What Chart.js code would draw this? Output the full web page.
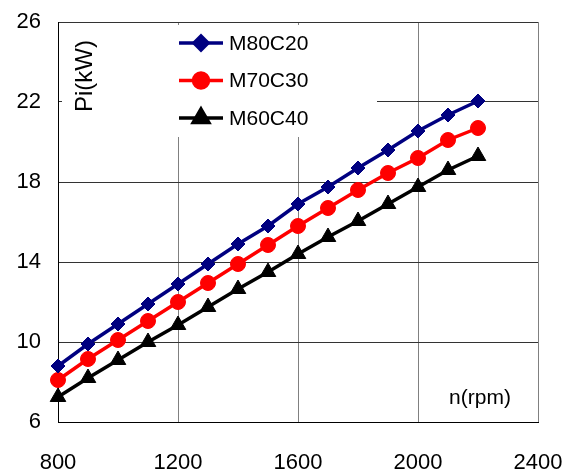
<!DOCTYPE html>
<html>
  <head>
    <title>Pi vs n</title>
    <script src="https://cdn.jsdelivr.net/npm/chart.js"></script>
    <style>
      body { margin: 0; background: #fff; }
    </style>
  </head>
  <body>
    <canvas id="pi" width="572" height="473"></canvas>
    <script>
      const rpm = [800, 900, 1000, 1100, 1200, 1300, 1400, 1500, 1600, 1700, 1800, 1900, 2000, 2100, 2200];
      const m80c20 = [8.8, 9.9, 10.9, 11.9, 12.9, 13.9, 14.9, 15.8, 16.9, 17.75, 18.7, 19.6, 20.55, 21.35, 22.05];
      const m70c30 = [8.1, 9.15, 10.1, 11.05, 12.0, 12.95, 13.9, 14.85, 15.8, 16.7, 17.6, 18.45, 19.2, 20.1, 20.7];
      const m60c40 = [7.25, 8.2, 9.1, 10.0, 10.85, 11.75, 12.65, 13.5, 14.4, 15.25, 16.05, 16.9, 17.75, 18.6, 19.3];
      const yLabel = "Pi(kW)";
      const xLabel = "n(rpm)";

      const font = "Liberation Sans, Arial, sans-serif";

      function pts(vals) {
        return rpm.map((r, i) => ({ x: r, y: vals[i] }));
      }

      function series(label, vals, color, style, radius) {
        return {
          label: label,
          data: pts(vals),
          borderColor: color,
          backgroundColor: color,
          borderWidth: 3.5,
          pointStyle: style,
          pointRadius: radius,
          pointBorderWidth: 1,
          pointBorderColor: color,
          pointBackgroundColor: color,
          clip: false,
        };
      }

      // white boxes over the grid, then legend + axis names inside the plot
      const decor = {
        id: "decor",
        beforeDatasetsDraw(chart) {
          const { ctx, chartArea: a } = chart;
          ctx.save();
          ctx.fillStyle = "#fff";
          ctx.fillRect(a.left + 4, a.top + 3, 315, 112);
          ctx.restore();
        },
        afterDatasetsDraw(chart) {
          const { ctx, chartArea: a } = chart;
          ctx.save();
          chart.data.datasets.forEach((ds, i) => {
            const y = a.top + 21 + i * 37.5;
            const x0 = a.left + 121;
            ctx.strokeStyle = ds.borderColor;
            ctx.lineWidth = 3.5;
            ctx.beginPath();
            ctx.moveTo(x0, y);
            ctx.lineTo(x0 + 44, y);
            ctx.stroke();
            ctx.fillStyle = ds.backgroundColor;
            Chart.helpers.drawPoint(
              ctx,
              { pointStyle: ds.pointStyle, radius: ds.pointRadius, borderWidth: 1, rotation: 0 },
              x0 + 22,
              y
            );
            ctx.fill();
            ctx.fillStyle = "#000";
            ctx.font = "21px " + font;
            ctx.textAlign = "left";
            ctx.textBaseline = "middle";
            ctx.fillText(ds.label, x0 + 50, y + 1);
          });

          ctx.fillStyle = "#000";
          ctx.font = "21px " + font;
          ctx.textAlign = "center";
          ctx.textBaseline = "middle";
          ctx.fillText(xLabel, a.right - 58, a.bottom - 24);

          ctx.translate(a.left + 34, a.top + 54);
          ctx.rotate(-Math.PI / 2);
          ctx.font = "24px " + font;
          ctx.textBaseline = "alphabetic";
          ctx.fillText(yLabel, 0, 0);
          ctx.restore();
        },
      };

      const ctx = document.getElementById("pi").getContext("2d");
      new Chart(ctx, {
        type: "line",
        data: {
          datasets: [
            series("M80C20", m80c20, "#000080", "rectRot", 7),
            series("M70C30", m70c30, "#ff0000", "circle", 7.5),
            series("M60C40", m60c40, "#000000", "triangle", 9),
          ],
        },
        options: {
          responsive: false,
          animation: false,
          layout: { padding: { top: 22, right: 34, left: 0, bottom: 0 } },
          plugins: { legend: { display: false }, tooltip: { enabled: false } },
          scales: {
            x: {
              type: "linear",
              min: 800,
              max: 2400,
              ticks: {
                stepSize: 400,
                color: "#000",
                font: { family: font, size: 22 },
                padding: 28,
                maxRotation: 0,
                callback: (v) => String(v),
              },
              grid: { color: "#808080", drawTicks: false },
              border: { color: "#000", width: 1 },
              afterFit(s) {
                s.height = 51;
                s.paddingLeft = 0;
                s.paddingRight = 0;
              },
            },
            y: {
              min: 6,
              max: 26,
              ticks: { stepSize: 4, color: "#000", font: { family: font, size: 22 }, padding: 17 },
              grid: { color: "#333", drawTicks: false },
              border: { color: "#000", width: 1 },
              afterFit(s) {
                s.width = 58;
                s.paddingTop = 0;
                s.paddingBottom = 0;
              },
            },
          },
        },
        plugins: [decor],
      });
    </script>
  </body>
</html>
